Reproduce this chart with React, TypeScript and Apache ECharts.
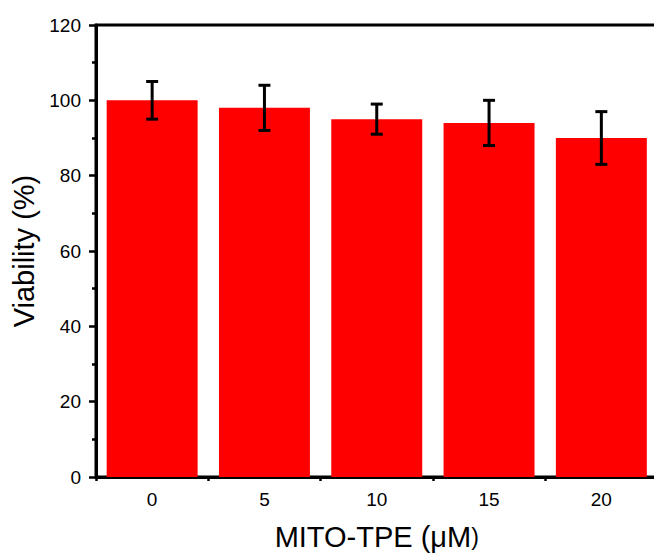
import React, { useEffect, useRef } from "react";
import * as echarts from "echarts";

const categories = ["0", "5", "10", "15", "20"];
const viability = [100, 98, 95, 94, 90];
const errors = [5, 6, 4, 6, 7];
const yTicks = { min: 0, max: 120, interval: 20 };

export default function App() {
  const ref = useRef<HTMLDivElement>(null);
  useEffect(() => {
    if (!ref.current) return;
    const chart = echarts.init(ref.current, null, { renderer: "svg" });
    const font = "Liberation Sans, Arial, sans-serif";
    const errData = viability.map((v, i) => [i, v - errors[i], v + errors[i]]);
    chart.setOption({
      animation: false,
      backgroundColor: "#ffffff",
      grid: {
        left: 96,
        right: 22.5,
        top: 25,
        bottom: 77,
        show: true,
        borderColor: "#000",
        borderWidth: 3,
        backgroundColor: "transparent",
      },
      xAxis: [
        {
          type: "category",
          data: categories,
          position: "bottom",
          name: "MITO-TPE (μM{s|)}",
          nameLocation: "middle",
          nameGap: 45,
          nameTextStyle: {
            fontFamily: font,
            fontSize: 29,
            color: "#000",
            rich: { s: { fontFamily: font, fontSize: 23, color: "#000" } },
          },
          axisLine: { lineStyle: { color: "#000", width: 3 } },
          axisTick: { alignWithLabel: true, length: 7, lineStyle: { color: "#000", width: 2.5 } },
          axisLabel: { fontFamily: font, fontSize: 19, color: "#000", margin: 13 },
          splitLine: { show: false },
        },
        {
          type: "value",
          min: 0,
          max: 5,
          interval: 1,
          position: "bottom",
          axisLine: { show: false },
          axisTick: { show: true, length: 4, lineStyle: { color: "#000", width: 2.5 } },
          axisLabel: { show: false },
          splitLine: { show: false },
        },
      ],
      yAxis: {
        type: "value",
        min: yTicks.min,
        max: yTicks.max,
        interval: yTicks.interval,
        name: "Viability (%)",
        nameLocation: "middle",
        nameGap: 53,
        nameTextStyle: { fontFamily: font, fontSize: 29, color: "#000" },
        axisLine: { show: true, lineStyle: { color: "#000", width: 3 } },
        axisTick: { show: true, length: 7, lineStyle: { color: "#000", width: 2.5 } },
        minorTick: { show: true, splitNumber: 2, length: 4, lineStyle: { color: "#000", width: 2.5 } },
        axisLabel: { fontFamily: font, fontSize: 19, color: "#000", margin: 15 },
        splitLine: { show: false },
      },
      series: [
        {
          type: "bar",
          data: viability,
          barWidth: "81%",
          itemStyle: { color: "#ff0000" },
        },
        {
          type: "custom",
          data: errData,
          z: 10,
          encode: { x: 0, y: [1, 2] },
          renderItem: (params: any, api: any) => {
            const x = api.value(0);
            const lo = api.coord([x, api.value(1)]);
            const hi = api.coord([x, api.value(2)]);
            const hw = 6;
            const style = { stroke: "#000", lineWidth: 3 };
            return {
              type: "group",
              children: [
                { type: "line", shape: { x1: lo[0], y1: lo[1], x2: hi[0], y2: hi[1] }, style },
                { type: "line", shape: { x1: lo[0] - hw, y1: lo[1], x2: lo[0] + hw, y2: lo[1] }, style },
                { type: "line", shape: { x1: hi[0] - hw, y1: hi[1], x2: hi[0] + hw, y2: hi[1] }, style },
              ],
            };
          },
        },
      ],
    });
    return () => chart.dispose();
  }, []);
  return (
    <div
      ref={ref}
      style={{ position: "fixed", left: 0, top: 0, width: 680, height: 556, background: "#fff" }}
    />
  );
}
